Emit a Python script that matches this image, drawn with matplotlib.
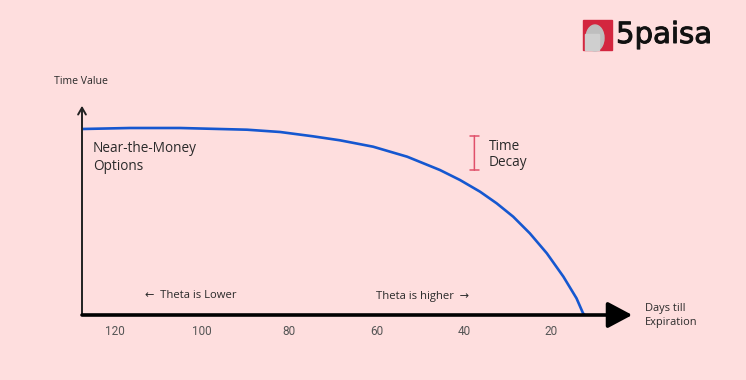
import matplotlib
matplotlib.use("Agg")
import matplotlib.pyplot as plt
import matplotlib.patches as mpatches
import matplotlib.patheffects as pe

# --- Data ---
days = [127.5, 116.5, 105.0, 89.7, 82.1, 74.6, 68.4, 60.8, 53.0, 45.5,
        40.9, 36.3, 32.5, 28.7, 24.9, 21.0, 17.2, 14.2, 12.7, 12.3]
time_value = [186, 187, 187, 185.3, 183, 178.7, 174.7, 168.3, 158.3, 145,
              135, 123.3, 111.7, 98.3, 81.7, 61.7, 38.3, 16.7, 1.7, 0]
tick_days = [120, 100, 80, 60, 40, 20]
tick_labels = ["120", "100", "80", "60", "40", "20"]

BG = "#FEDEDE"
W, H = 746, 380
FAM = ["Open Sans", "DejaVu Sans"]


def fx(px):
    return px / W


def fy(py):
    return 1 - py / H


fig = plt.figure(figsize=(7.46, 3.8), dpi=100, facecolor=BG)
ax = fig.add_axes([fx(82), fy(315), fx(635) - fx(82), fy(103) - fy(315)])
ax.set_facecolor(BG)
ax.patch.set_alpha(0)

ax.plot(days, time_value, color="#1557D0", lw=1.9, solid_capstyle="butt",
        solid_joinstyle="round", zorder=3)

ax.set_xlim(127.5, 0.8)
ax.set_ylim(0, 212)
for s in ax.spines.values():
    s.set_visible(False)
ax.set_xticks(tick_days)
ax.set_xticklabels(tick_labels, fontsize=8.5, color="#555555", family="Roboto")
ax.tick_params(axis="x", length=0, pad=7)
ax.set_yticks([])

# axes with arrows
ax.annotate("", xy=(0, 1.0), xytext=(0, -0.01), xycoords="axes fraction",
            arrowprops=dict(arrowstyle="->,head_length=0.35,head_width=0.2",
                            color="#222222", lw=1.4, mutation_scale=14), zorder=4)
ax.annotate("", xy=(1.0, 0), xytext=(-0.005, 0), xycoords="axes fraction",
            arrowprops=dict(arrowstyle="-|>,head_length=0.75,head_width=0.4",
                            color="black", lw=2.6, mutation_scale=20), zorder=4)

# Time decay marker
ax.annotate("", xy=(37.6, 315 - 133), xytext=(37.6, 315 - 173),
            arrowprops=dict(arrowstyle="|-|,widthA=0.25,widthB=0.25",
                            color="#E0506A", lw=1.1, mutation_scale=14))

txt = dict(family=FAM, color="#2a2a2a")
fig.text(fx(54), fy(81), "Time Value", fontsize=7.6, va="center", **txt)
fig.text(fx(93), fy(149), "Near-the-Money", fontsize=9.8, va="center", **txt)
fig.text(fx(93), fy(166), "Options", fontsize=9.8, va="center", **txt)
fig.text(fx(489), fy(146), "Time", fontsize=9.8, va="center", **txt)
fig.text(fx(489), fy(163), "Decay", fontsize=9.8, va="center", **txt)
fig.text(fx(145), fy(296), "\u2190  Theta is Lower", fontsize=8.1, va="center", **txt)
fig.text(fx(376), fy(296), "Theta is higher  \u2192", fontsize=8.1, va="center", **txt)
fig.text(fx(645), fy(309), "Days till", fontsize=7.9, va="center", **txt)
fig.text(fx(645), fy(323), "Expiration", fontsize=7.9, va="center", **txt)

# 5paisa logo
fig.patches.append(mpatches.Rectangle((fx(583), fy(50)), fx(29), fy(20) - fy(50),
                                      transform=fig.transFigure, color="#D3263F", zorder=5))
fig.patches.append(mpatches.Ellipse((fx(595), fy(38)), fx(18), fy(24) - fy(50),
                                    transform=fig.transFigure, color="#BEBEBE", zorder=6))
fig.patches.append(mpatches.Rectangle((fx(585), fy(50)), fx(14), fy(34) - fy(50),
                                      transform=fig.transFigure, color="#CFCFCF", zorder=6))
fig.text(fx(616), fy(35), "5paisa", fontsize=21, family="DejaVu Sans",
         color="#111111", va="center",
         path_effects=[pe.withStroke(linewidth=0.7, foreground="#111111")])

fig.savefig("out.png", dpi=100, facecolor=BG)
